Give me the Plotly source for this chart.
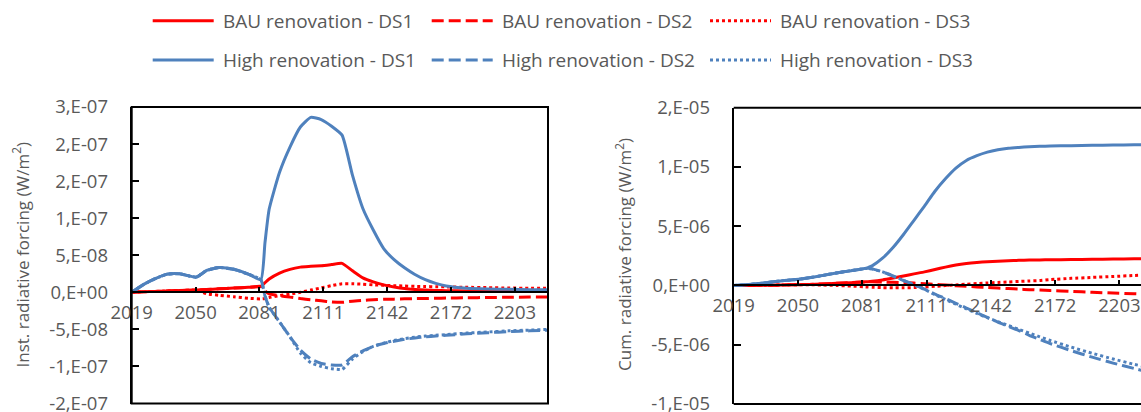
import plotly.graph_objects as go

# ---------------- data ----------------
years = [2019, 2025, 2030, 2036, 2042, 2050, 2055, 2061, 2068, 2075, 2081, 2083, 2085,
         2090, 2095, 2100, 2105, 2110, 2115, 2120, 2125, 2130, 2135, 2140, 2145, 2150,
         2155, 2160, 2165, 2170, 2180, 2190, 2200, 2210, 2219]

# Instantaneous radiative forcing, in units of 1e-8 W/m2
inst_bau_ds1 = [0, 0.08, 0.12, 0.18, 0.24, 0.3, 0.38, 0.47, 0.57, 0.68, 0.8, 1.3, 1.8,
                2.6, 3.1, 3.4, 3.5, 3.6, 3.75, 3.9, 2.9, 1.95, 1.4, 1.0, 0.72, 0.5,
                0.38, 0.3, 0.25, 0.22, 0.18, 0.16, 0.15, 0.14, 0.13]
inst_bau_ds2 = [0, 0.08, 0.12, 0.18, 0.24, 0.3, 0.38, 0.47, 0.57, 0.68, 0.8, 0.2, -0.2,
                -0.45, -0.65, -0.85, -1.0, -1.15, -1.3, -1.35, -1.2, -1.1, -1.0, -0.95, -0.92, -0.88,
                -0.85, -0.83, -0.8, -0.78, -0.74, -0.7, -0.67, -0.64, -0.62]
inst_bau_ds3 = [0, 0.08, 0.12, 0.18, 0.24, 0.3, -0.2, -0.4, -0.6, -0.8, -0.9, -0.85, -0.7,
                -0.45, -0.25, 0.0, 0.3, 0.6, 0.9, 1.15, 1.15, 1.1, 1.0, 0.95, 0.9, 0.85,
                0.8, 0.78, 0.75, 0.73, 0.68, 0.63, 0.58, 0.55, 0.53]
inst_high_ds1 = [0, 1.1, 1.8, 2.45, 2.5, 2.05, 2.95, 3.35, 3.1, 2.45, 1.7, 6.7, 11.2,
                 16.2, 19.6, 22.3, 23.6, 23.3, 22.4, 21.2, 15.8, 11.3, 8.4, 5.9, 4.4, 3.3,
                 2.4, 1.7, 1.2, 0.85, 0.55, 0.45, 0.4, 0.35, 0.35]
inst_high_ds2 = [0, 1.1, 1.8, 2.45, 2.5, 2.05, 2.95, 3.35, 3.1, 2.45, 1.7, -0.5, -2.0,
                 -4.0, -6.0, -7.8, -9.0, -9.6, -9.8, -9.8, -8.7, -7.9, -7.3, -6.9, -6.6, -6.35,
                 -6.15, -6.0, -5.9, -5.8, -5.6, -5.45, -5.3, -5.2, -5.1]
inst_high_ds3 = [0, 1.1, 1.8, 2.45, 2.5, 2.05, 2.95, 3.35, 3.1, 2.45, 1.7, -0.5, -2.0,
                 -4.0, -6.0, -8.2, -9.5, -10.0, -10.3, -10.4, -9.0, -8.0, -7.3, -6.85, -6.5, -6.25,
                 -6.05, -5.9, -5.8, -5.7, -5.5, -5.35, -5.2, -5.1, -5.0]

# Cumulative radiative forcing, in units of 1e-6 W/m2
cum_bau_ds1 = [0, 0.0, 0.01, 0.02, 0.04, 0.07, 0.09, 0.13, 0.18, 0.24, 0.3, 0.32, 0.35,
               0.47, 0.63, 0.8, 0.98, 1.15, 1.35, 1.55, 1.72, 1.85, 1.94, 2.0, 2.05, 2.09,
               2.12, 2.14, 2.16, 2.17, 2.19, 2.21, 2.23, 2.25, 2.27]
cum_bau_ds2 = [0, 0.0, 0.01, 0.02, 0.04, 0.07, 0.09, 0.13, 0.18, 0.24, 0.3, 0.31, 0.31,
               0.29, 0.27, 0.24, 0.2, 0.15, 0.1, 0.04, -0.02, -0.07, -0.12, -0.17, -0.22, -0.26,
               -0.31, -0.35, -0.39, -0.43, -0.5, -0.57, -0.64, -0.7, -0.76]
cum_bau_ds3 = [0, 0.0, 0.01, 0.02, 0.04, 0.07, 0.06, 0.04, 0.0, -0.05, -0.11, -0.13, -0.15,
               -0.18, -0.2, -0.2, -0.18, -0.13, -0.07, -0.01, 0.05, 0.11, 0.16, 0.21, 0.26, 0.3,
               0.34, 0.38, 0.42, 0.5, 0.6, 0.68, 0.76, 0.84, 0.9]
cum_high_ds1 = [0, 0.06, 0.14, 0.27, 0.4, 0.52, 0.65, 0.83, 1.05, 1.25, 1.42, 1.5, 1.65,
                2.3, 3.2, 4.3, 5.5, 6.7, 7.95, 9.0, 9.9, 10.55, 10.95, 11.25, 11.45, 11.58,
                11.65, 11.7, 11.74, 11.77, 11.8, 11.83, 11.85, 11.87, 11.89]
cum_high_ds2 = [0, 0.06, 0.14, 0.27, 0.4, 0.52, 0.65, 0.83, 1.05, 1.25, 1.42, 1.44, 1.4,
                1.15, 0.8, 0.42, 0.08, -0.3, -0.72, -1.1, -1.5, -1.9, -2.3, -2.7, -3.1, -3.45,
                -3.8, -4.2, -4.55, -4.9, -5.5, -6.05, -6.55, -7.0, -7.4]
cum_high_ds3 = [0, 0.06, 0.14, 0.27, 0.4, 0.52, 0.65, 0.83, 1.05, 1.25, 1.42, 1.44, 1.4,
                1.15, 0.8, 0.42, 0.06, -0.33, -0.78, -1.18, -1.58, -1.97, -2.35, -2.72, -3.05, -3.38,
                -3.7, -4.02, -4.33, -4.64, -5.2, -5.72, -6.2, -6.65, -7.0]

series_names = ["BAU renovation - DS1", "BAU renovation - DS2", "BAU renovation - DS3",
                "High renovation - DS1", "High renovation - DS2", "High renovation - DS3"]
inst_series = [inst_bau_ds1, inst_bau_ds2, inst_bau_ds3, inst_high_ds1, inst_high_ds2, inst_high_ds3]
cum_series = [cum_bau_ds1, cum_bau_ds2, cum_bau_ds3, cum_high_ds1, cum_high_ds2, cum_high_ds3]

x_tick_vals = [2019, 2049.667, 2080.333, 2111, 2141.667, 2172.333, 2203]
x_tick_text = ["2019", "2050", "2081", "2111", "2142", "2172", "2203"]

inst_tick_vals = [-1.5e-7, -1e-7, -5e-8, 0, 5e-8, 1e-7, 1.5e-7, 2e-7, 2.5e-7]
inst_tick_text = ["-2,E-07", "-1,E-07", "-5,E-08", "0,E+00", "5,E-08", "1,E-07", "2,E-07", "2,E-07", "3,E-07"]
cum_tick_vals = [-1e-5, -5e-6, 0, 5e-6, 1e-5, 1.5e-5]
cum_tick_text = ["-1,E-05", "-5,E-06", "0,E+00", "5,E-06", "1,E-05", "2,E-05"]

# ---------------- styling / layout ----------------
W, H = 1141, 412
RED = "#FF0000"
BLUE = "#4F81BD"
GREY = "#595959"
FONT = "Open Sans"
colors = [RED, RED, RED, BLUE, BLUE, BLUE]
dashes = ["solid", "12px,5px", "3px,3px", "solid", "12px,5px", "3px,3px"]

INST_RANGE = [-1.5e-7, 2.5e-7]
CUM_RANGE = [-1e-5, 1.5e-5]

L_X0, L_X1, L_TOP, L_BOT = 131.7, 548.0, 107.0, 403.5
R_X0, R_TOP, R_BOT = 733.7, 107.7, 404.0


def fx(p):
    return p / W


def fy(p):
    return 1 - p / H


ly0, ly1 = fy(L_BOT), fy(L_TOP)
ry0, ry1 = fy(R_BOT), fy(R_TOP)
l_zero = ly0 + (0 - INST_RANGE[0]) / (INST_RANGE[1] - INST_RANGE[0]) * (ly1 - ly0)
r_zero = ry0 + (0 - CUM_RANGE[0]) / (CUM_RANGE[1] - CUM_RANGE[0]) * (ry1 - ry0)

fig = go.Figure()
for name, ys, c, d in zip(series_names, inst_series, colors, dashes):
    fig.add_trace(go.Scatter(x=years, y=[v * 1e-8 for v in ys], mode="lines", name=name,
                             line=dict(color=c, width=3, dash=d, shape="spline", smoothing=0.5),
                             xaxis="x", yaxis="y", showlegend=False))
for name, ys, c, d in zip(series_names, cum_series, colors, dashes):
    fig.add_trace(go.Scatter(x=years, y=[v * 1e-6 for v in ys], mode="lines", name=name,
                             line=dict(color=c, width=3, dash=d, shape="spline", smoothing=0.5),
                             xaxis="x2", yaxis="y2", showlegend=False))

tickfont = dict(family=FONT, size=18.5, color=GREY)

xcommon = dict(showline=True, linecolor="black", linewidth=1.5, ticks="inside", ticklen=5,
               tickwidth=1.5, tickcolor="black", tickvals=x_tick_vals, ticktext=x_tick_text,
               tickfont=tickfont, showgrid=False, zeroline=False, anchor="free",
               ticklabelstandoff=4, automargin=False, ticklabeloverflow="allow")
ycommon = dict(showline=True, linecolor="black", linewidth=2, ticks="inside", ticklen=7,
               tickwidth=1.5, tickcolor="black", tickfont=tickfont, showgrid=False,
               zeroline=False, ticklabelstandoff=18, automargin=False,
               ticklabeloverflow="allow")

fig.update_layout(
    width=W, height=H,
    margin=dict(l=0, r=0, t=0, b=0, pad=0, autoexpand=False),
    paper_bgcolor="white", plot_bgcolor="rgba(0,0,0,0)",
    showlegend=False,
    xaxis=dict(domain=[fx(L_X0), fx(L_X1)], range=[2019, 2218.9], position=l_zero, **xcommon),
    yaxis=dict(domain=[ly0, ly1], range=INST_RANGE, anchor="x", tickvals=inst_tick_vals,
               ticktext=inst_tick_text, **ycommon),
    xaxis2=dict(domain=[fx(R_X0), 1.0], range=[2019, 2213.3], position=r_zero, **xcommon),
    yaxis2=dict(domain=[ry0, ry1], range=CUM_RANGE, anchor="x2", tickvals=cum_tick_vals,
                ticktext=cum_tick_text, **ycommon),
)

shapes = [
    dict(type="rect", xref="paper", yref="paper", x0=fx(L_X0), x1=fx(L_X1), y0=ly0, y1=ly1,
         line=dict(color="black", width=2), layer="above"),
    dict(type="line", xref="paper", yref="paper", x0=fx(R_X0), x1=1.0, y0=ry1, y1=ry1,
         line=dict(color="black", width=2), layer="above"),
    dict(type="line", xref="paper", yref="paper", x0=fx(R_X0), x1=1.0, y0=ry0, y1=ry0,
         line=dict(color="black", width=2), layer="above"),
]

annotations = [
    dict(text="Inst. radiative forcing (W/m<sup>2</sup>)", x=fx(21.5), y=fy(255),
         xref="paper", yref="paper", textangle=-90, showarrow=False,
         xanchor="center", yanchor="middle", font=dict(family=FONT, size=17, color=GREY)),
    dict(text="Cum. radiative forcing (W/m<sup>2</sup>)", x=fx(624), y=fy(255),
         xref="paper", yref="paper", textangle=-90, showarrow=False,
         xanchor="center", yanchor="middle", font=dict(family=FONT, size=17, color=GREY)),
]

# manual legend (two rows, three aligned columns)
col_line_x = [152.7, 431.7, 710.0]
line_len = 61
row_y = [20.7, 60.0]
for i, (name, c, d) in enumerate(zip(series_names, colors, dashes)):
    r, k = divmod(i, 3)
    x0 = col_line_x[k]
    shapes.append(dict(type="line", xref="paper", yref="paper", x0=fx(x0), x1=fx(x0 + line_len),
                       y0=fy(row_y[r]), y1=fy(row_y[r]),
                       line=dict(color=c, width=3, dash=d)))
    annotations.append(dict(text=name, x=fx(x0 + line_len + 7), y=fy(row_y[r]), xref="paper",
                            yref="paper", showarrow=False, xanchor="left", yanchor="middle",
                            font=dict(family=FONT, size=19, color=GREY)))

fig.update_layout(shapes=shapes, annotations=annotations)
fig.write_html("out.html",
               config={"displayModeBar": False},
               post_script="document.body.style.margin='0px';document.body.style.overflow='hidden';")
